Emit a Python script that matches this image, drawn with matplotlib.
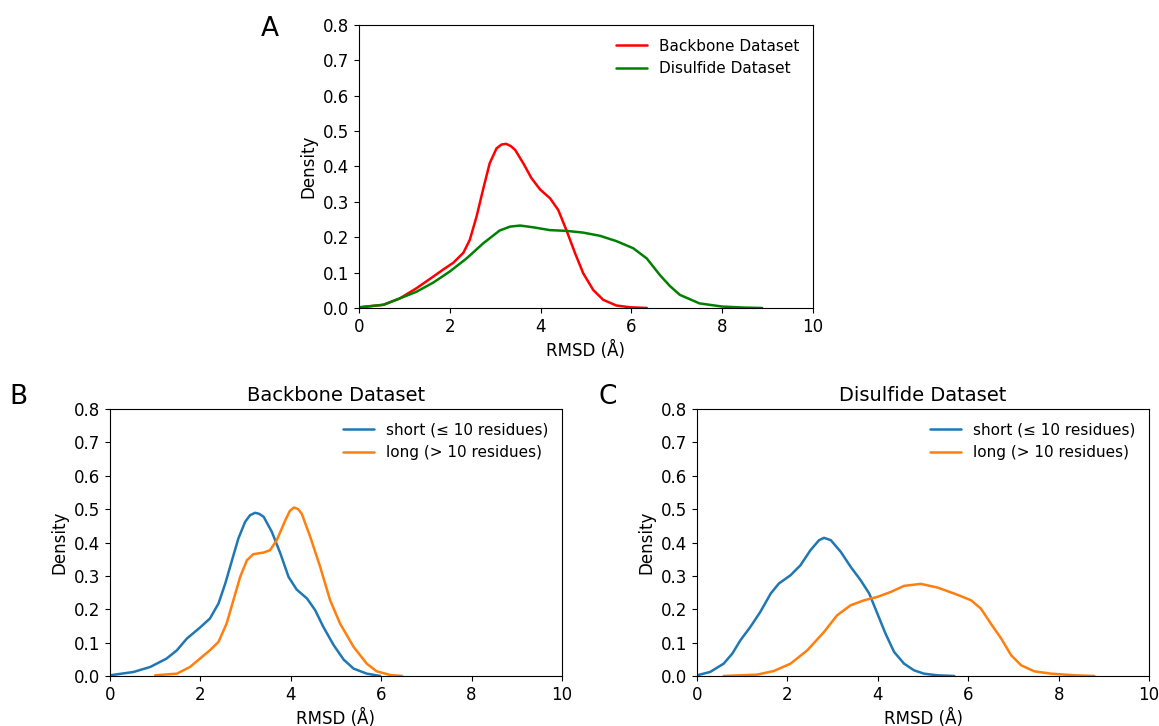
import matplotlib
matplotlib.use('Agg')
import matplotlib.pyplot as plt

# Panel A
bb_x = [0.02, 0.54, 0.90, 1.27, 1.64, 1.86, 2.08, 2.30, 2.44, 2.59, 2.74, 2.88, 3.03, 3.14, 3.24,
        3.34, 3.44, 3.62, 3.80, 3.99, 4.21, 4.39, 4.57, 4.76, 4.94, 5.16, 5.38, 5.67, 5.97, 6.34]
bb_y = [0.002, 0.009, 0.027, 0.056, 0.089, 0.109, 0.128, 0.156, 0.192, 0.258, 0.338, 0.409, 0.451,
        0.462, 0.464, 0.458, 0.447, 0.409, 0.367, 0.335, 0.310, 0.277, 0.220, 0.155, 0.098, 0.051,
        0.023, 0.007, 0.002, 0.0]
ds_x = [0.02, 0.54, 0.90, 1.27, 1.64, 2.00, 2.37, 2.74, 3.10, 3.33, 3.55, 3.84, 4.21, 4.57, 4.94,
        5.31, 5.67, 6.04, 6.34, 6.63, 6.85, 7.07, 7.50, 8.00, 8.50, 8.88]
ds_y = [0.002, 0.009, 0.027, 0.046, 0.072, 0.103, 0.140, 0.183, 0.219, 0.230, 0.233, 0.228, 0.220,
        0.218, 0.213, 0.204, 0.189, 0.169, 0.140, 0.093, 0.062, 0.037, 0.013, 0.004, 0.001, 0.0]

# Panel B - backbone dataset, short / long
b_short_x = [0.0, 0.52, 0.89, 1.25, 1.48, 1.70, 1.99, 2.21, 2.40, 2.55, 2.70, 2.84, 2.99, 3.10,
             3.21, 3.30, 3.40, 3.58, 3.77, 3.95, 4.13, 4.36, 4.54, 4.72, 4.95, 5.17, 5.39, 5.68, 5.98]
b_short_y = [0.002, 0.012, 0.027, 0.052, 0.077, 0.112, 0.145, 0.172, 0.217, 0.277, 0.347, 0.412,
             0.462, 0.482, 0.489, 0.486, 0.477, 0.432, 0.367, 0.297, 0.259, 0.232, 0.197, 0.147,
             0.092, 0.049, 0.022, 0.007, 0.0]
b_long_x = [1.00, 1.48, 1.77, 1.99, 2.21, 2.40, 2.58, 2.73, 2.88, 3.03, 3.17, 3.40, 3.54, 3.69,
            3.88, 3.98, 4.07, 4.16, 4.24, 4.43, 4.65, 4.87, 5.09, 5.39, 5.68, 5.90, 6.20, 6.46]
b_long_y = [0.002, 0.007, 0.027, 0.052, 0.077, 0.102, 0.157, 0.227, 0.297, 0.347, 0.365, 0.370,
            0.377, 0.407, 0.467, 0.495, 0.505, 0.500, 0.487, 0.417, 0.327, 0.227, 0.157, 0.087,
            0.037, 0.014, 0.003, 0.0]

# Panel C - disulfide dataset, short / long
c_short_x = [0.0, 0.29, 0.59, 0.78, 0.96, 1.18, 1.40, 1.63, 1.81, 2.07, 2.29, 2.51, 2.70, 2.81,
             2.96, 3.18, 3.40, 3.62, 3.81, 3.99, 4.17, 4.36, 4.58, 4.80, 5.02, 5.32, 5.69]
c_short_y = [0.002, 0.012, 0.037, 0.067, 0.107, 0.147, 0.192, 0.247, 0.277, 0.302, 0.332, 0.377,
             0.407, 0.414, 0.407, 0.372, 0.327, 0.287, 0.247, 0.187, 0.127, 0.072, 0.037, 0.017,
             0.007, 0.002, 0.0]
c_long_x = [0.59, 1.33, 1.70, 2.07, 2.44, 2.81, 3.10, 3.40, 3.70, 3.99, 4.29, 4.58, 4.95, 5.32,
            5.69, 6.06, 6.28, 6.50, 6.73, 6.95, 7.17, 7.46, 7.83, 8.35, 8.79]
c_long_y = [0.0, 0.004, 0.015, 0.037, 0.077, 0.132, 0.182, 0.212, 0.227, 0.237, 0.252, 0.270,
            0.276, 0.265, 0.247, 0.227, 0.202, 0.157, 0.112, 0.062, 0.032, 0.014, 0.007, 0.002, 0.0]

plt.rcParams['font.family'] = 'DejaVu Sans'
plt.rcParams['font.size'] = 12

fig = plt.figure(figsize=(11.59, 7.26), dpi=100)
axA = fig.add_axes([0.3097, 0.5758, 0.3917, 0.3898])
axB = fig.add_axes([0.0949, 0.0689, 0.39, 0.3677])
axC = fig.add_axes([0.6014, 0.0689, 0.39, 0.3677])

lw = 1.8
style = dict(lw=lw, solid_joinstyle='round', solid_capstyle='round')
axA.plot(bb_x, bb_y, color='red', label='Backbone Dataset', **style)
axA.plot(ds_x, ds_y, color='green', label='Disulfide Dataset', **style)

axB.plot(b_short_x, b_short_y, color='#1f77b4', label='short (≤ 10 residues)', **style)
axB.plot(b_long_x, b_long_y, color='#ff7f0e', label='long (> 10 residues)', **style)
axB.set_title('Backbone Dataset', fontsize=14)

axC.plot(c_short_x, c_short_y, color='#1f77b4', label='short (≤ 10 residues)', **style)
axC.plot(c_long_x, c_long_y, color='#ff7f0e', label='long (> 10 residues)', **style)
axC.set_title('Disulfide Dataset', fontsize=14)

for ax in (axA, axB, axC):
    ax.set_xlim(0, 10)
    ax.set_ylim(0, 0.8)
    ax.set_xticks([0, 2, 4, 6, 8, 10])
    ax.set_yticks([0.0, 0.1, 0.2, 0.3, 0.4, 0.5, 0.6, 0.7, 0.8])
    ax.set_xlabel('RMSD (Å)')
    ax.set_ylabel('Density')
    ax.tick_params(labelsize=12)
    ax.legend(loc='upper right', frameon=False, fontsize=11)

fig.text(0.233, 0.96, 'A', fontsize=19, ha='center', va='center')
fig.text(0.016, 0.453, 'B', fontsize=19, ha='center', va='center')
fig.text(0.524, 0.453, 'C', fontsize=19, ha='center', va='center')

plt.savefig('out.png', dpi=100)
